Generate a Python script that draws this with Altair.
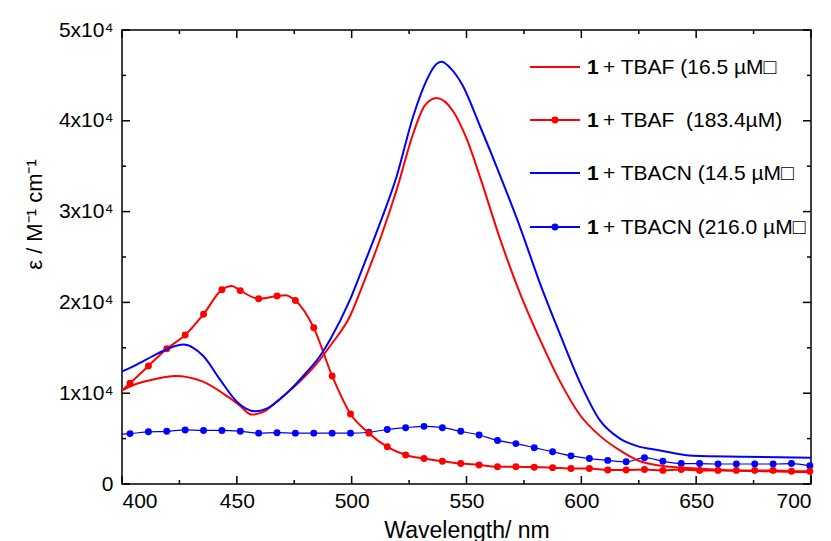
import altair as alt
import pandas as pd

# ---------------- data (wavelength in nm, epsilon in M^-1 cm^-1) ----------------
tbaf_lo_nm = [400, 405, 413.6, 423, 435, 445.6, 451, 456.5, 462, 467.4, 477.5, 486.2, 490.6,
              499.3, 505.1, 512.3, 519.6, 526.8, 531.9, 537.0, 544.3, 550.1, 555.9, 564.6,
              573.3, 582.0, 590.7, 599.4, 608.1, 616.8, 625.5, 635, 650, 665, 680, 700]
tbaf_lo_eps = [10300, 10900, 11500, 11900, 11300, 9700, 8700, 7650, 8000, 9100, 11300, 13700,
               15200, 18500, 22100, 26900, 32400, 38600, 41700, 42500, 41000, 38000, 33800,
               27000, 21000, 15900, 11300, 7600, 5300, 3700, 2500, 2000, 1700, 1500, 1400, 1300]

tbacn_lo_nm = [400, 406, 413.6, 420, 426.7, 431, 435.4, 442.7, 449.9, 454, 457.9, 463, 471.7,
               480, 486.2, 490.6, 499.3, 505.1, 512.3, 519.6, 526.8, 532.7, 536, 539.2, 543,
               548.1, 555.9, 564.6, 573.3, 582.0, 590.7, 599.4, 608.1, 616.8, 624.1, 634.3,
               648.7, 670.5, 700]
tbacn_lo_eps = [12400, 13100, 14100, 14900, 15350, 15000, 14100, 11500, 9100, 8300, 8000, 8300,
                10000, 12200, 14100, 15900, 20300, 24000, 28700, 33900, 40500, 44500, 46000,
                46500, 45800, 44000, 39400, 34000, 28300, 22100, 16500, 11200, 7000, 5000,
                4200, 3700, 3100, 3000, 2900]

# marker wavelengths (shared by both high-concentration spectra)
marker_nm = [403.5, 411.5, 419.5, 427.5, 435.5, 443.5, 451.5, 459.5, 467.5, 475.5, 483.5,
             491.5, 499.5, 507.5, 515.5, 523.5, 531.5, 539.5, 547.5, 555.5, 563.5, 571.5,
             579.5, 587.5, 595.5, 603.5, 611.5, 619.5, 627.5, 635.5, 643.5, 651.5, 659.5,
             667.5, 675.5, 683.5, 691.5, 699.5]
tbaf_hi_eps = [11100, 13000, 14900, 16400, 18700, 21400, 21300, 20400, 20700, 20200, 17200,
               11900, 7700, 5600, 4100, 3200, 2800, 2500, 2250, 2100, 1900, 1900, 1850, 1800,
               1700, 1700, 1550, 1550, 1600, 1500, 1600, 1500, 1500, 1500, 1500, 1500, 1400, 1400]
tbacn_hi_eps = [5550, 5750, 5800, 5950, 5900, 5900, 5800, 5600, 5650, 5600, 5600, 5600, 5600,
                5700, 6000, 6200, 6350, 6200, 5800, 5400, 4800, 4450, 4000, 3550, 3100, 2800,
                2600, 2450, 2900, 2500, 2250, 2250, 2200, 2200, 2200, 2200, 2250, 2000]

# extra line points between markers (start of trace and local maxima)
tbaf_hi_extra_nm = [400, 447.8, 471.0]
tbaf_hi_extra_eps = [10300, 21800, 20800]
tbacn_hi_extra_nm = [400]
tbacn_hi_extra_eps = [5500]

legend_labels = ["+ TBAF (16.5 µM□", "+ TBAF\u00a0 (183.4µM)", "+ TBACN (14.5 µM□", "+ TBACN (216.0 µM□"]
legend_colors = ["#ff0000", "#ff0000", "#0000ff", "#0000ff"]
legend_marker = [False, True, False, True]

x_major = [400, 450, 500, 550, 600, 650, 700]
x_minor = [425, 475, 525, 575, 625, 675]
y_major = [0, 10000, 20000, 30000, 40000, 50000]
y_minor = [5000, 15000, 25000, 35000, 45000]

# ---------------- build tables ----------------
W, H = 689, 454
FONT = "Liberation Sans"

df_red_lo = pd.DataFrame({"nm": tbaf_lo_nm, "eps": tbaf_lo_eps})
df_blue_lo = pd.DataFrame({"nm": tbacn_lo_nm, "eps": tbacn_lo_eps})
df_red_hi_pts = pd.DataFrame({"nm": marker_nm, "eps": tbaf_hi_eps})
df_blue_hi_pts = pd.DataFrame({"nm": marker_nm, "eps": tbacn_hi_eps})
df_red_hi_line = pd.concat([df_red_hi_pts, pd.DataFrame({"nm": tbaf_hi_extra_nm, "eps": tbaf_hi_extra_eps})]).sort_values("nm")
df_blue_hi_line = pd.concat([df_blue_hi_pts, pd.DataFrame({"nm": tbacn_hi_extra_nm, "eps": tbacn_hi_extra_eps})]).sort_values("nm")

xs = alt.Scale(domain=[400, 700], nice=False, zero=False)
ys = alt.Scale(domain=[0, 50000], nice=False)

x_axis = alt.Axis(
    values=x_major, title="Wavelength/ nm", ticks=False, tickSize=0, domain=False, grid=False,
    labelFont=FONT, labelFontSize=21, labelColor="black", labelPadding=6,
    titleFont=FONT, titleFontSize=23, titleFontWeight="normal", titleColor="black",
    titleY=53, titleBaseline="alphabetic")
y_axis = alt.Axis(
    values=y_major, title="ε / M⁻¹ cm⁻¹", ticks=False, tickSize=0, domain=False, grid=False,
    labelExpr="datum.value == 0 ? '0' : format(datum.value / 10000, 'd') + 'x10⁴'",
    labelFont=FONT, labelFontSize=21, labelColor="black", labelPadding=9,
    titleFont=FONT, titleFontSize=22, titleFontWeight="normal", titleColor="black",
    titleX=-88, titleY=184, titleAngle=270, titleBaseline="middle", titleAlign="center")

X = alt.X("nm:Q", scale=xs, axis=x_axis)
Y = alt.Y("eps:Q", scale=ys, axis=y_axis)


def line(df, color, width):
    return alt.Chart(df).mark_line(color=color, strokeWidth=width, interpolate="monotone").encode(x=X, y=Y)


def pts(df, color):
    return alt.Chart(df).mark_point(color=color, filled=True, size=48, opacity=1).encode(x=X, y=Y)


# inward ticks on all four sides
def xticks(vals, length):
    d = pd.DataFrame({"nm": vals})
    b = alt.Chart(d).mark_rule(color="black", strokeWidth=1.5).encode(x=X, y=alt.value(H), y2=alt.value(H - length))
    t = alt.Chart(d).mark_rule(color="black", strokeWidth=1.5).encode(x=X, y=alt.value(0), y2=alt.value(length))
    return b + t


def yticks(vals, length):
    d = pd.DataFrame({"eps": vals})
    l = alt.Chart(d).mark_rule(color="black", strokeWidth=1.5).encode(y=Y, x=alt.value(0), x2=alt.value(length))
    r = alt.Chart(d).mark_rule(color="black", strokeWidth=1.5).encode(y=Y, x=alt.value(W), x2=alt.value(W - length))
    return l + r


ticks = xticks(x_major, 8) + xticks(x_minor, 4) + yticks(y_major, 8) + yticks(y_minor, 4)

# legend (custom, drawn inside the plot)
leg_y = [37, 90, 143, 197]
legend_layers = []
for i, lab in enumerate(legend_labels):
    c = legend_colors[i]
    legend_layers.append(alt.Chart(pd.DataFrame({"k": [0]})).mark_rule(color=c, strokeWidth=2).encode(
        x=alt.value(408), x2=alt.value(458), y=alt.value(leg_y[i])))
    if legend_marker[i]:
        legend_layers.append(alt.Chart(pd.DataFrame({"k": [0]})).mark_point(
            color=c, filled=True, size=48, opacity=1).encode(x=alt.value(433), y=alt.value(leg_y[i])))
    legend_layers.append(alt.Chart(pd.DataFrame({"t": ["1"]})).mark_text(
        font=FONT, fontSize=21, fontWeight="bold", align="left", baseline="middle", color="black").encode(
        text="t:N", x=alt.value(465), y=alt.value(leg_y[i] + 1)))
    legend_layers.append(alt.Chart(pd.DataFrame({"t": [lab]})).mark_text(
        font=FONT, fontSize=21, align="left", baseline="middle", color="black").encode(
        text="t:N", x=alt.value(481), y=alt.value(leg_y[i] + 1)))

chart = alt.layer(
    line(df_blue_hi_line, "#0000ff", 1.2),
    pts(df_blue_hi_pts, "#0000ff"),
    line(df_red_hi_line, "#ff0000", 2),
    pts(df_red_hi_pts, "#ff0000"),
    line(df_red_lo, "#ff0000", 2),
    line(df_blue_lo, "#0000ff", 2),
    ticks,
    *legend_layers,
).properties(
    width=W, height=H,
    autosize=alt.AutoSizeParams(type="none"),
    padding={"left": 114, "top": 22, "right": 12, "bottom": 57},
    background="white",
).configure_view(stroke="black", strokeWidth=1.5)

chart.save("out.html", embed_options={"renderer": "svg", "actions": False})
